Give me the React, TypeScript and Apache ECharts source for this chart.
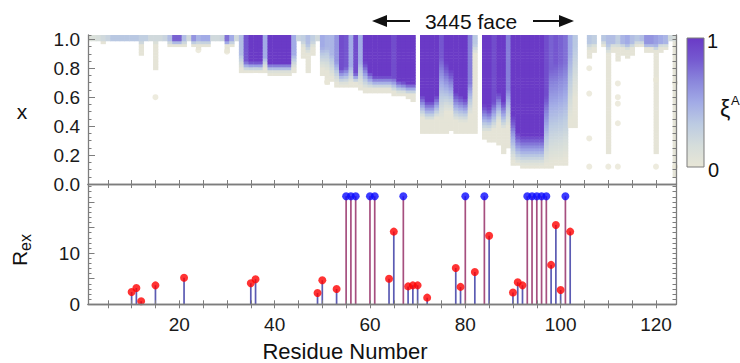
import React, { useEffect, useRef } from "react";
import * as echarts from "echarts";

// ---------- axes ----------
const RESIDUE_MIN = 0.85;
const RESIDUE_MAX = 124.2;
const residueTicks = [5, 10, 15, 20, 25, 30, 35, 40, 45, 50, 55, 60, 65, 70, 75, 80, 85, 90, 95, 100, 105, 110, 115, 120];
const residueLabels = [20, 40, 60, 80, 100, 120];
const xTickLabels = [0, 0.2, 0.4, 0.6, 0.8, 1.0];
const X_MAX = 1.03;
const REX_MAX = 23.5;
const rexLabels = [0, 10];

// ---------- top panel: xi^A profile of every residue (index = residue - 1) ----------
// xi value at the top of the column
const xiPeak = [
  0.10, 0.12, 0.15, 0.20, 0.25, 0.35, 0.35, 0.35, 0.35, 0.35,
  0.35, 0.30, 0.30, 0.20, 0.20, 0.20, 0.25, 0.40, 0.80, 0.80,
  0.40, 0.20, 0.60, 0.45, 0.50, 0.50, 0.20, 0.20, 0.25, 0.75,
  0.50, 0.20, 0.40, 0.85, 1, 1, 1, 0.50, 1, 1,
  1, 1, 1, 0.50, 0.25, 0.30, 0.40, 0.30, 0.20, 0.50,
  0.45, 0.45, 0.60, 0.90, 0.85, 0.50, 0.90, 0.50, 1, 1,
  1, 1, 1, 1, 0.90, 1, 1, 1, 1, 0,
  1, 1, 1, 1, 0.85, 1, 1, 1, 1, 1,
  0.70, 0.35, 0, 1, 1, 0.90, 1, 1, 0.70, 1,
  1, 1, 1, 1, 1, 1, 0.90, 0.80, 0.85, 0.80,
  0.75, 0.50, 0.35, 0, 0, 0.35, 0.30, 0, 0.35, 0.40,
  0.40, 0.30, 0.45, 0.50, 0.40, 0.35, 0.40, 0.60, 0.60, 0.55,
  0.50, 0.45, 0.20, 0.15,
];
// x down to which the column keeps its peak value
const xiCoreEnd = [
  1, 1, 1, 0.99, 1, 1, 1, 1, 1, 1,
  1, 0.99, 1, 1, 0.99, 1, 1, 0.99, 0.99, 0.99,
  0.99, 1, 0.99, 0.99, 0.99, 0.99, 1, 1, 1, 0.99,
  0.99, 1, 0.90, 0.85, 0.85, 0.85, 0.85, 0.88, 0.84, 0.84,
  0.84, 0.84, 0.84, 0.90, 1, 0.99, 0.97, 0.99, 1, 0.95,
  0.95, 0.90, 0.85, 0.80, 0.81, 0.82, 0.77, 0.85, 0.85, 0.78,
  0.75, 0.75, 0.75, 0.75, 0.74, 0.72, 0.71, 0.70, 0.70, 2,
  0.62, 0.58, 0.58, 0.62, 0.88, 0.85, 0.80, 0.64, 0.62, 0.60,
  0.70, 0.97, 2, 0.55, 0.53, 0.57, 0.64, 0.58, 0.66, 0.48,
  0.36, 0.34, 0.34, 0.34, 0.34, 0.34, 0.62, 0.80, 0.85, 0.85,
  0.85, 0.90, 0.95, 2, 2, 0.98, 0.98, 2, 0.99, 0.97,
  0.98, 0.98, 0.98, 0.97, 0.98, 0.99, 0.99, 0.97, 0.97, 0.97,
  0.98, 0.98, 1, 1,
];
// x where the colour has faded to the beige floor
const xiFadeEnd = [
  0.99, 0.99, 0.99, 0.98, 0.99, 0.99, 0.99, 0.99, 0.99, 0.99,
  0.99, 0.96, 0.99, 0.99, 0.97, 0.99, 0.99, 0.97, 0.97, 0.97,
  0.97, 0.99, 0.97, 0.97, 0.97, 0.97, 0.99, 0.99, 0.99, 0.96,
  0.97, 0.99, 0.80, 0.785, 0.785, 0.785, 0.785, 0.80, 0.775, 0.775,
  0.775, 0.775, 0.775, 0.80, 0.99, 0.95, 0.90, 0.95, 0.99, 0.80,
  0.78, 0.74, 0.70, 0.69, 0.69, 0.70, 0.70, 0.68, 0.66, 0.66,
  0.66, 0.66, 0.66, 0.66, 0.64, 0.63, 0.63, 0.62, 0.62, 2,
  0.46, 0.44, 0.44, 0.46, 0.45, 0.50, 0.50, 0.44, 0.43, 0.43,
  0.48, 0.90, 2, 0.36, 0.36, 0.38, 0.43, 0.38, 0.40, 0.16,
  0.14, 0.13, 0.13, 0.13, 0.13, 0.13, 0.14, 0.15, 0.16, 0.16,
  0.18, 0.45, 0.60, 2, 2, 0.93, 0.95, 2, 0.97, 0.90,
  0.95, 0.94, 0.94, 0.93, 0.94, 0.97, 0.97, 0.94, 0.94, 0.92,
  0.95, 0.95, 0.99, 0.98,
];
// lowest x that still has data (white below)
const xiDataEnd = [
  0.99, 0.99, 0.99, 0.97, 0.99, 0.99, 0.99, 0.99, 0.99, 0.99,
  0.99, 0.89, 0.99, 0.99, 0.79, 0.99, 0.99, 0.955, 0.955, 0.955,
  0.96, 0.99, 0.95, 0.93, 0.955, 0.955, 0.99, 0.99, 0.99, 0.92,
  0.95, 0.99, 0.78, 0.765, 0.765, 0.765, 0.765, 0.78, 0.755, 0.755,
  0.755, 0.755, 0.755, 0.78, 0.99, 0.88, 0.77, 0.90, 0.99, 0.76,
  0.70, 0.72, 0.68, 0.67, 0.67, 0.68, 0.68, 0.66, 0.64, 0.64,
  0.64, 0.64, 0.64, 0.64, 0.62, 0.61, 0.61, 0.60, 0.58, 2,
  0.36, 0.36, 0.36, 0.36, 0.36, 0.36, 0.37, 0.35, 0.35, 0.35,
  0.36, 0.35, 2, 0.31, 0.30, 0.30, 0.28, 0.22, 0.25, 0.14,
  0.13, 0.12, 0.12, 0.12, 0.12, 0.12, 0.12, 0.12, 0.13, 0.13,
  0.14, 0.39, 0.40, 2, 2, 0.87, 0.92, 2, 0.95, 0.21,
  0.92, 0.86, 0.90, 0.88, 0.90, 0.95, 0.95, 0.92, 0.92, 0.21,
  0.92, 0.93, 0.99, 0.05,
];
// isolated beige spots [residue, x]
const xiBlobs = [
  [15, 0.6], [24, 0.925], [30, 0.915], [51, 0.705], [106, 0.8], [106, 0.625], [106, 0.315], [106, 0.12],
  [110, 0.12], [112, 0.695], [112, 0.6], [112, 0.555], [112, 0.42], [112, 0.12], [120, 0.72], [120, 0.12],
  [124, 0.7], [124, 0.12],
];
const ROW_STEP = 0.02;
const XI_FLOOR = 0.03;

// ---------- bottom panel: Rex ----------
const redResidues = [10, 11, 12, 15, 21, 35, 36, 49, 50, 53, 64, 65, 68, 69, 70, 72, 78, 79, 82, 85, 90, 91, 92, 98, 99, 100, 102];
const redRex = [2.4, 3.2, 0.6, 3.7, 5.2, 4.1, 4.9, 2.2, 4.7, 3.0, 5.0, 14.2, 3.5, 3.7, 3.7, 1.3, 7.1, 3.4, 6.3, 13.4, 2.3, 4.3, 3.7, 7.7, 15.5, 2.8, 14.2];
const offScaleResidues = [55, 56, 57, 60, 61, 67, 80, 84, 93, 94, 95, 96, 97, 101];
const OFF_SCALE_REX = 21.1;

const colorRamp = ["#e8e6d6", "#d5dddb", "#bccbe2", "#a2abe6", "#8a86dc", "#7559d0", "#6a3ac6"];
const FRAME = "#7d7d7d";
const FONT = "Liberation Sans, Arial, sans-serif";

function xiAt(i: number, x: number): number | null {
  if (x < xiDataEnd[i] - 1e-6) return null;
  const p = xiPeak[i], c = xiCoreEnd[i], f = xiFadeEnd[i];
  if (x >= c - 1e-6) return p;
  if (x >= f) return XI_FLOOR + (p - XI_FLOOR) * (x - f) / (c - f);
  return XI_FLOOR;
}

function buildHeat() {
  const out: number[][] = [];
  const rows = Math.round(X_MAX / ROW_STEP);
  for (let i = 0; i < xiPeak.length; i++) {
    for (let k = 0; k < rows; k++) {
      const x = Math.round(k * ROW_STEP * 100) / 100;
      const v = xiAt(i, x);
      if (v != null) out.push([i + 1, x, v]);
    }
  }
  return out;
}

export default function App() {
  const ref = useRef<HTMLDivElement>(null);
  useEffect(() => {
    if (!ref.current) return;
    const chart = echarts.init(ref.current, undefined, { renderer: "svg" });
    const heat = buildHeat();
    const axisLine = { show: true, lineStyle: { color: FRAME, width: 1.3 } };
    const tick = (len: number, extra: any = {}) => ({ show: true, inside: true, length: len, lineStyle: { color: FRAME, width: 1 }, ...extra });
    const labelStyle = { color: "#1a1a1a", fontSize: 19, fontFamily: FONT };

    const xBase = { type: "value", min: RESIDUE_MIN, max: RESIDUE_MAX, splitLine: { show: false }, axisLine, z: 5 };

    const stem = (color: string) => (params: any, api: any) => {
      const r = api.value(0), v = api.value(1);
      const a = api.coord([r, 0]);
      const b = api.coord([r, v]);
      return { type: "line", shape: { x1: a[0], y1: a[1], x2: b[0], y2: b[1] }, style: { stroke: color, lineWidth: 1.7 } };
    };

    chart.setOption({
      animation: false,
      backgroundColor: "#ffffff",
      grid: [
        { left: 88, right: 64, top: 35, height: 149 },
        { left: 88, right: 64, top: 184, height: 120.3 },
      ],
      xAxis: [
        { ...xBase, gridIndex: 0, position: "bottom", axisTick: tick(4, { customValues: residueTicks }), axisLabel: { show: false } },
        { ...xBase, gridIndex: 0, position: "top", axisTick: tick(4, { customValues: residueTicks }), axisLabel: { show: false } },
        { ...xBase, gridIndex: 1, position: "bottom", axisTick: tick(4, { customValues: residueTicks }),
          axisLabel: { ...labelStyle, customValues: residueLabels, margin: 11 } },
        { ...xBase, gridIndex: 1, position: "top", axisTick: tick(4, { customValues: residueTicks }), axisLabel: { show: false } },
      ],
      yAxis: [
        { type: "value", gridIndex: 0, position: "left", min: 0, max: X_MAX, splitLine: { show: false }, axisLine, z: 5,
          axisTick: tick(7, { customValues: xTickLabels }),
          axisLabel: { ...labelStyle, customValues: xTickLabels, margin: 8, formatter: (v: number) => v.toFixed(1) } },
        { type: "value", gridIndex: 0, position: "left", min: 0, max: X_MAX, interval: 0.05, splitLine: { show: false },
          axisLine: { show: false }, axisTick: tick(3.5), axisLabel: { show: false }, z: 5 },
        { type: "value", gridIndex: 0, position: "right", min: 0, max: X_MAX, interval: 0.05, splitLine: { show: false },
          axisLine, axisTick: tick(3.5), axisLabel: { show: false }, z: 5 },
        { type: "value", gridIndex: 1, position: "left", min: 0, max: REX_MAX, interval: 5, splitLine: { show: false }, axisLine, z: 5,
          axisTick: tick(6.5),
          axisLabel: { ...labelStyle, margin: 8, formatter: (v: number) => (rexLabels.indexOf(v) >= 0 ? String(v) : "") } },
        { type: "value", gridIndex: 1, position: "left", min: 0, max: REX_MAX, interval: 1, splitLine: { show: false },
          axisLine: { show: false }, axisTick: tick(3.5), axisLabel: { show: false }, z: 5 },
        { type: "value", gridIndex: 1, position: "right", min: 0, max: REX_MAX, interval: 1, splitLine: { show: false },
          axisLine, axisTick: tick(3.5), axisLabel: { show: false }, z: 5 },
      ],
      visualMap: {
        type: "continuous", show: false, seriesIndex: 0, dimension: 2, min: 0, max: 1,
        inRange: { color: colorRamp },
      },
      series: [
        {
          type: "custom", xAxisIndex: 0, yAxisIndex: 0, clip: true, data: heat,
          encode: { x: 0, y: 1 },
          renderItem: (params: any, api: any) => {
            const r = api.value(0), x = api.value(1);
            const p0 = api.coord([r - 0.5, x + ROW_STEP / 2]);
            const p1 = api.coord([r + 0.5, x - ROW_STEP / 2]);
            return {
              type: "rect",
              shape: { x: p0[0], y: p0[1], width: p1[0] - p0[0] + 0.5, height: p1[1] - p0[1] + 0.5 },
              style: { fill: api.visual("color") },
            };
          },
        },
        {
          type: "scatter", xAxisIndex: 0, yAxisIndex: 0, symbolSize: 6, clip: true,
          itemStyle: { color: colorRamp[0] }, data: xiBlobs,
        },
        {
          type: "custom", xAxisIndex: 2, yAxisIndex: 3, clip: true,
          data: redResidues.map((r, i) => [r, redRex[i]]), encode: { x: 0, y: 1 },
          renderItem: stem("#5b5bb3"),
        },
        {
          type: "custom", xAxisIndex: 2, yAxisIndex: 3, clip: true,
          data: offScaleResidues.map((r) => [r, OFF_SCALE_REX]), encode: { x: 0, y: 1 },
          renderItem: stem("#a64f7f"),
        },
        {
          type: "scatter", xAxisIndex: 2, yAxisIndex: 3, symbolSize: 8, z: 4,
          itemStyle: { color: "#ff0000" }, data: redResidues.map((r, i) => [r, redRex[i]]),
        },
        {
          type: "scatter", xAxisIndex: 2, yAxisIndex: 3, symbolSize: 8, z: 4,
          itemStyle: { color: "#0a0aff" }, data: offScaleResidues.map((r) => [r, OFF_SCALE_REX]),
        },
      ],
      graphic: [
        // title with arrows
        { type: "text", x: 471, y: 21, style: { text: "3445 face", fontSize: 21, fontFamily: FONT, fill: "#111", align: "center", verticalAlign: "middle" } },
        { type: "line", shape: { x1: 410, y1: 21, x2: 382, y2: 21 }, style: { stroke: "#111", lineWidth: 2 } },
        { type: "polygon", shape: { points: [[372, 21], [387, 15], [387, 27]] }, style: { fill: "#111" } },
        { type: "line", shape: { x1: 533, y1: 21, x2: 562, y2: 21 }, style: { stroke: "#111", lineWidth: 2 } },
        { type: "polygon", shape: { points: [[574, 21], [559, 15], [559, 27]] }, style: { fill: "#111" } },
        // axis titles
        { type: "text", x: 22, y: 111, style: { text: "x", fontSize: 21, fontFamily: FONT, fill: "#111", align: "center", verticalAlign: "middle" } },
        {
          type: "group", x: 30, y: 266, rotation: Math.PI / 2,
          children: [
            { type: "text", x: 0, y: 0, style: { text: "R", fontSize: 21, fontFamily: FONT, fill: "#111", align: "left", verticalAlign: "bottom" } },
            { type: "text", x: 15, y: 3, style: { text: "ex", fontSize: 16, fontFamily: FONT, fill: "#111", align: "left", verticalAlign: "bottom" } },
          ],
        },
        { type: "text", x: 345, y: 351, style: { text: "Residue Number", fontSize: 22, fontFamily: FONT, fill: "#111", align: "center", verticalAlign: "middle" } },
        // colour bar
        {
          type: "rect", shape: { x: 687, y: 38, width: 17, height: 129 },
          style: {
            fill: {
              type: "linear", x: 0, y: 0, x2: 0, y2: 1,
              colorStops: colorRamp.slice().reverse().map((c, i, a) => ({ offset: i / (a.length - 1), color: c })),
            },
            stroke: FRAME, lineWidth: 1,
          },
        },
        { type: "text", x: 707, y: 41, style: { text: "1", fontSize: 20, fontFamily: FONT, fill: "#111", align: "left", verticalAlign: "middle" } },
        { type: "text", x: 708, y: 170, style: { text: "0", fontSize: 20, fontFamily: FONT, fill: "#111", align: "left", verticalAlign: "middle" } },
        { type: "text", x: 720, y: 109, style: { text: "ξ", fontSize: 23, fontFamily: FONT, fill: "#111", align: "left", verticalAlign: "middle" } },
        { type: "text", x: 731, y: 100, style: { text: "A", fontSize: 13, fontFamily: FONT, fill: "#111", align: "left", verticalAlign: "middle" } },
      ],
    });
    return () => chart.dispose();
  }, []);
  return <div ref={ref} style={{ position: "fixed", left: 0, top: 0, width: 740, height: 363, background: "#fff" }} />;
}
